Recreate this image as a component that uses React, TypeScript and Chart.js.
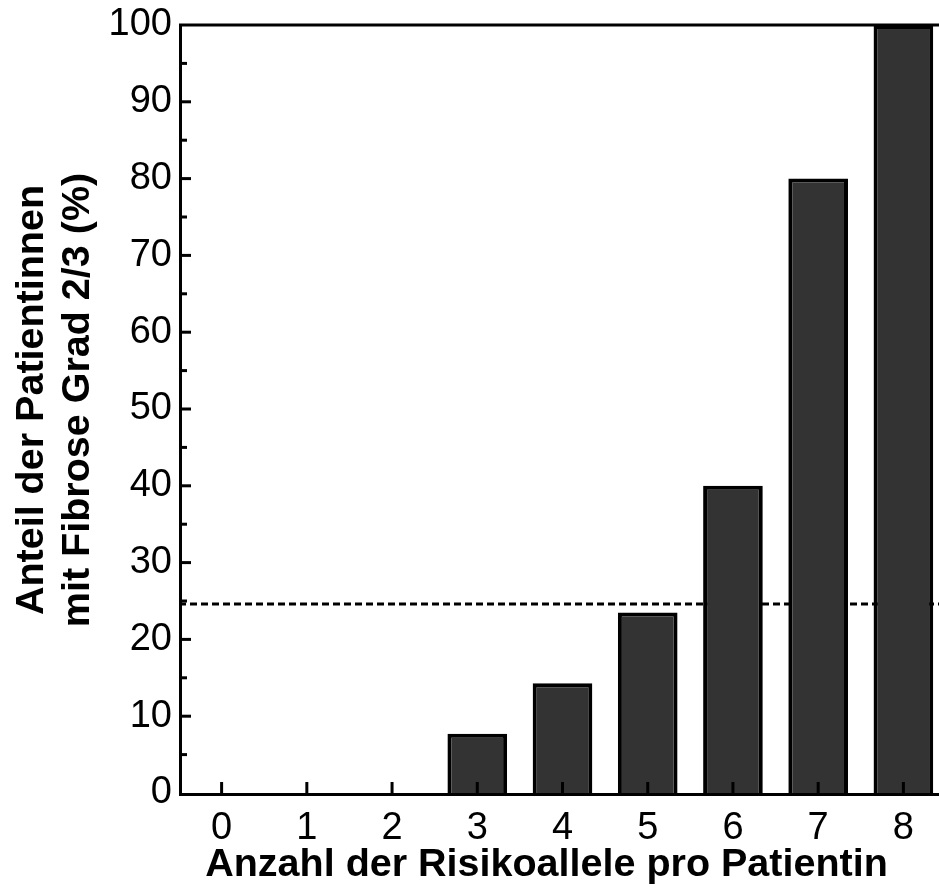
import React, { useEffect, useRef } from "react";
import { Chart, registerables } from "chart.js";

Chart.register(...registerables);

const categories = ["0", "1", "2", "3", "4", "5", "6", "7", "8"];
const shareValues = [0, 0, 0, 7.7, 14.3, 23.5, 40, 80, 100];
const thresholdValue = 24.6;
const yTitleLines = ["Anteil der Patientinnen", "mit Fibrose Grad 2/3 (%)"];
const xTitle = "Anzahl der Risikoallele pro Patientin";

const FONT = "'Liberation Sans', Arial, Helvetica, sans-serif";
const TITLE_FONT = `bold 39.5px ${FONT}`;

const framePlugin = {
  id: "frameAndTicks",
  beforeDatasetsDraw(chart: any) {
    const { ctx, chartArea, scales } = chart;
    const y = scales.y.getPixelForValue(thresholdValue);
    ctx.save();
    ctx.strokeStyle = "#000";
    ctx.lineWidth = 3;
    ctx.setLineDash([7, 4]);
    ctx.beginPath();
    ctx.moveTo(chartArea.left, y);
    ctx.lineTo(chartArea.right, y);
    ctx.stroke();
    ctx.restore();
  },
  afterDatasetsDraw(chart: any) {
    const { ctx, chartArea, scales } = chart;
    const { left, right, top, bottom } = chartArea;
    ctx.save();
    ctx.strokeStyle = "#000";
    ctx.lineWidth = 3;
    ctx.lineCap = "butt";
    const ys = scales.y;
    const tv: number[] = ys.ticks.map((t: any) => t.value);
    for (let i = 0; i < tv.length; i++) {
      const v = tv[i];
      const py = ys.getPixelForValue(v);
      if (v !== ys.min && v !== ys.max) {
        ctx.beginPath();
        ctx.moveTo(left, py);
        ctx.lineTo(left + 12, py);
        ctx.stroke();
      }
      if (i < tv.length - 1) {
        const pm = ys.getPixelForValue((v + tv[i + 1]) / 2);
        ctx.beginPath();
        ctx.moveTo(left, pm);
        ctx.lineTo(left + 8, pm);
        ctx.stroke();
      }
    }
    const xs = scales.x;
    for (let i = 0; i < categories.length; i++) {
      const px = xs.getPixelForTick(i);
      ctx.beginPath();
      ctx.moveTo(px, bottom);
      ctx.lineTo(px, bottom - 11);
      ctx.stroke();
    }
    ctx.beginPath();
    ctx.moveTo(left + 1.5, top);
    ctx.lineTo(right, top);
    ctx.moveTo(left + 1.5, top - 1.5);
    ctx.lineTo(left + 1.5, bottom + 1.5);
    ctx.moveTo(left, bottom + 1.5);
    ctx.lineTo(right, bottom + 1.5);
    ctx.moveTo(right, top);
    ctx.lineTo(right, bottom);
    ctx.stroke();
    ctx.restore();
  },
  afterDraw(chart: any) {
    const { ctx, chartArea } = chart;
    const { left, right, top, bottom } = chartArea;
    ctx.save();
    ctx.fillStyle = "#000";
    ctx.font = TITLE_FONT;
    ctx.textBaseline = "alphabetic";
    ctx.textAlign = "center";
    ctx.fillText(xTitle, (left + right) / 2 - 16, bottom + 83);
    const cy = (top + bottom) / 2 - 9;
    ctx.translate(left, cy);
    ctx.rotate(-Math.PI / 2);
    ctx.fillText(yTitleLines[0], 0, -136);
    ctx.fillText(yTitleLines[1], 0, -90);
    ctx.restore();
  },
};

export default function App() {
  const ref = useRef<HTMLCanvasElement | null>(null);
  useEffect(() => {
    if (!ref.current) return;
    const chart = new Chart(ref.current, {
      type: "bar",
      data: {
        labels: categories,
        datasets: [
          {
            data: shareValues,
            backgroundColor: "#333333",
            borderColor: "#000000",
            borderWidth: 4,
            borderSkipped: "start",
            barPercentage: 0.7,
            categoryPercentage: 1,
          },
        ],
      },
      options: {
        responsive: false,
        animation: false,
        devicePixelRatio: 1,
        layout: { padding: { top: 25, right: 0, left: 0, bottom: 0 } },
        plugins: { legend: { display: false }, tooltip: { enabled: false } },
        scales: {
          x: {
            offset: true,
            grid: { display: false, drawTicks: false },
            border: { display: false },
            ticks: {
              color: "#000",
              padding: 13,
              font: { family: FONT, size: 38 },
              maxRotation: 0,
              autoSkip: false,
            },
            afterFit(scale: any) {
              scale.height = 100;
              scale.paddingLeft = 0;
              scale.paddingRight = 0;
            },
          },
          y: {
            min: 0,
            max: 100,
            grid: { display: false, drawTicks: false },
            border: { display: false },
            ticks: {
              stepSize: 10,
              color: "#000",
              padding: 7,
              font: { family: FONT, size: 38 },
            },
            afterFit(scale: any) {
              scale.width = 179;
              scale.paddingTop = 0;
              scale.paddingBottom = 0;
            },
          },
        },
      },
      plugins: [framePlugin],
    });
    return () => chart.destroy();
  }, []);
  return (
    <div
      style={{
        position: "fixed",
        left: 0,
        top: 0,
        width: 939,
        height: 893,
        overflow: "hidden",
        background: "#fff",
      }}
    >
      <canvas ref={ref} width={946} height={893} style={{ width: 946, height: 893, display: "block" }} />
    </div>
  );
}
